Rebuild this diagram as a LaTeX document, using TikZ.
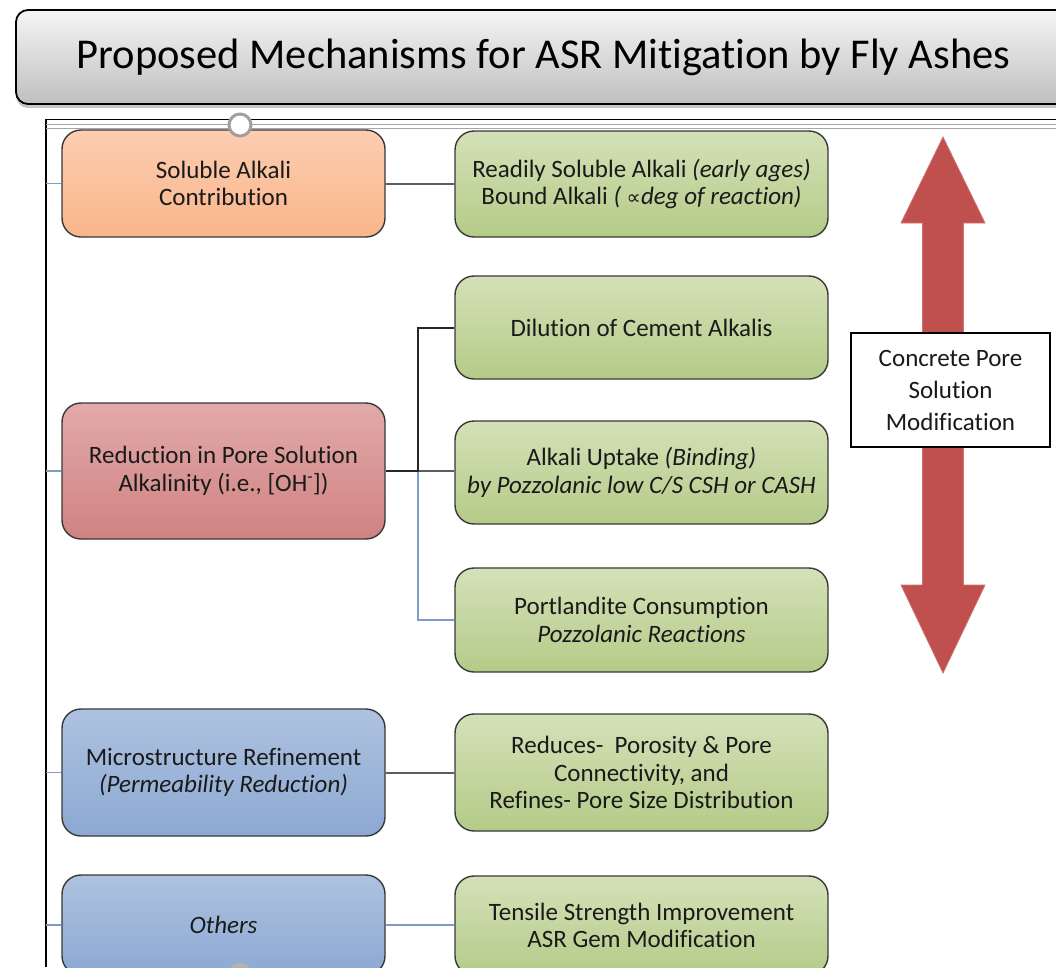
\documentclass[tikz,border=0pt]{standalone}
\usepackage{fontspec}
\setmainfont{Carlito}[Ligatures={NoCommon}]
\newfontfamily\symfnt{DejaVu Sans}[Scale=0.8]
\usetikzlibrary{shadows}
\definecolor{txt}{HTML}{1A1A1A}
\definecolor{bord}{HTML}{383838}
\definecolor{stub}{HTML}{7C9CC9}
\definecolor{link}{HTML}{5E5E5E}
\definecolor{arrowred}{HTML}{C0504D}
\tikzset{
  base/.style={draw=bord, line width=1.4pt, rounded corners=19pt, align=center,
    text=txt, font=\fontsize{25}{27.5}\selectfont, inner sep=0pt},
  lbox/.style={base, minimum width=323pt},
  gbox/.style={base, minimum width=373pt, top color=green1, bottom color=green2},
  orangebox/.style={lbox, top color=or1, bottom color=or2},
  redbox/.style={lbox, top color=rd1, bottom color=rd2},
  bluebox/.style={lbox, top color=bl1, bottom color=bl2},
  stubline/.style={draw=stub, line width=1.6pt},
  grayline/.style={draw=link, line width=2pt},
  blackline/.style={draw=black!85, line width=2pt},
}
\definecolor{green1}{HTML}{D4E1B8}
\definecolor{green2}{HTML}{B4CB88}
\definecolor{or1}{HTML}{FDCDB1}
\definecolor{or2}{HTML}{F9B58A}
\definecolor{rd1}{HTML}{E2AAAA}
\definecolor{rd2}{HTML}{D08282}
\definecolor{bl1}{HTML}{AEC2E0}
\definecolor{bl2}{HTML}{8CA8D2}
\begin{document}
\begin{tikzpicture}[x=1pt,y=-1pt]
\useasboundingbox (0,0) rectangle (1056,967);
\clip (0,0) rectangle (1056,967);
% title
\node[draw=black, line width=1.8pt, rounded corners=12pt, top color=gray!8, bottom color=gray!50,
  minimum width=1055pt, minimum height=94pt, inner sep=0pt, text=black,
  font=\fontsize{42.5}{48}\selectfont,
  drop shadow={shadow xshift=0pt, shadow yshift=-4pt, opacity=0.45}]
  (title) at (543.5,57) {Proposed Mechanisms for ASR Mitigation by Fly Ashes};
% frame
\coordinate (fl) at (46,0);
\draw[black, line width=1.6pt] (46,967) -- (46,119.5) -- (1060,119.5);
\draw[gray!70, line width=0.9pt] (46,124.5) -- (1060,124.5);
\draw[gray!70, line width=0.9pt] (46,128.5) -- (1060,128.5);
% arrow
\draw[fill=arrowred, draw=arrowred!80!white, line width=0.8pt]
  (943,137) -- (985,223) -- (963.5,223) -- (963.5,585) -- (985,585) -- (943,673)
  -- (901,585) -- (922.5,585) -- (922.5,223) -- (901,223) -- cycle;
\node[draw=black, fill=white, line width=1.3pt, minimum width=199pt, minimum height=114pt,
  align=center, text=txt, font=\fontsize{25}{32}\selectfont, inner sep=0pt]
  (cps) at (950.5,390) {Concrete Pore\\Solution\\Modification};
% left boxes
\node[orangebox, minimum height=107pt] (sol) at (223.5,183.5) {Soluble Alkali\\Contribution};
\node[redbox, minimum height=136pt] (red) at (223.5,471) {Reduction in Pore Solution\\Alkalinity (i.e., [OH\textsuperscript{-}])};
\node[bluebox, minimum height=127pt] (mic) at (223.5,772.5) {Microstructure Refinement\\\textit{(Permeability Reduction)}};
\node[bluebox, minimum height=100pt] (oth) at (223.5,925) {\textit{Others}};
% green boxes
\node[gbox, minimum height=106pt] (g1) at (641.5,184) {Readily Soluble Alkali \textit{(early ages)}\\Bound Alkali \textit{( {\symfnt ∝}deg of reaction)}};
\node[gbox, minimum height=103pt] (g2) at (641.5,327.5) {Dilution of Cement Alkalis};
\node[gbox, minimum height=103pt] (g3) at (641.5,472.5) {Alkali Uptake \textit{(Binding)}\\\textit{by Pozzolanic low C/S CSH or CASH}};
\node[gbox, minimum height=104pt] (g4) at (641.5,620) {Portlandite Consumption\\\textit{Pozzolanic Reactions}};
\node[gbox, minimum height=117pt] (g5) at (641.5,772.5) {Reduces-\ \ Porosity \& Pore\\Connectivity, and\\Refines- Pore Size Distribution};
\node[gbox, minimum height=99pt] (g6) at (641.5,925.5) {Tensile Strength Improvement\\ASR Gem Modification};
% stubs from frame
\foreach \n in {sol,red,mic,oth} \draw[stubline] (\n.west) -- (\n.west -| fl);
% links
\draw[grayline] (sol.east) -- (sol.east -| g1.west);
\coordinate (jn) at (418,471);
\draw[stubline] (jn) |- (g4.west);
\draw[grayline] (jn) -- (jn -| g3.west);
\draw[blackline] (red.east) -- (jn) |- (g2.west);
\draw[grayline] (mic.east) -- (mic.east -| g5.west);
\draw[stubline] (oth.east) -- (oth.east -| g6.west);
% connection circles
\node[circle, draw=gray!75, line width=3pt, fill=white, minimum size=22pt, inner sep=0pt] (ctop) at (240,125) {};
\node[circle, fill=gray!60, minimum size=24pt, inner sep=0pt] (cbot) at (240,975) {};
\end{tikzpicture}
\end{document}
